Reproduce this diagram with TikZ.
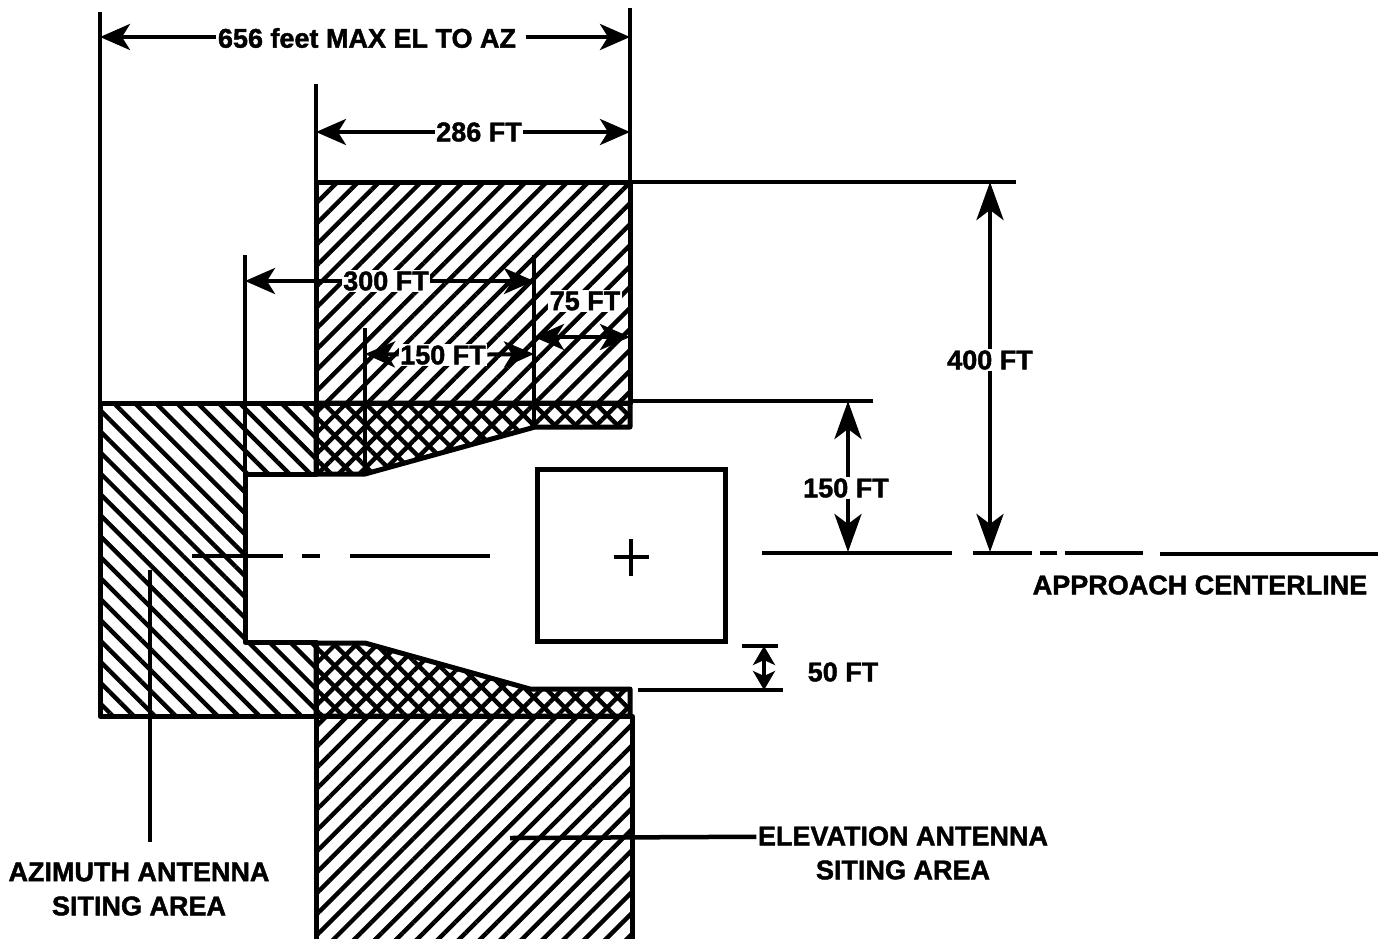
\documentclass[tikz,border=0pt]{standalone}
\usepackage{fontspec}
\setmainfont{Liberation Sans}[BoldFeatures={FakeBold=1.6}]
\usetikzlibrary{arrows.meta,patterns.meta}
\begin{document}
\begin{tikzpicture}[x=1pt,y=-1pt]
    % Define styles for areas and dimensions
    \tikzstyle{hatchup}=[pattern={Lines[angle=45,distance=14.8pt,line width=4.4pt]}]
    \tikzstyle{hatchdown}=[pattern={Lines[angle=-45,distance=14.8pt,line width=4.4pt]}]
    \tikzstyle{hatchcross}=[pattern={Hatch[angle=45,distance=14.8pt,line width=4.4pt]}]
    \tikzstyle{outline}=[draw, line width=5pt, line join=round]
    \tikzstyle{extline}=[line width=4.5pt]
    \tikzstyle{dimline}=[line width=4pt, {Stealth[length=30pt,width=26pt,inset=8pt]}-{Stealth[length=30pt,width=26pt,inset=8pt]}]
    \tikzstyle{dimleft}=[line width=4pt, {Stealth[length=30pt,width=26pt,inset=8pt]}-]
    \tikzstyle{dimright}=[line width=4pt, -{Stealth[length=30pt,width=26pt,inset=8pt]}]
    \tikzstyle{vertleft}=[line width=4.5pt, {Stealth[length=38pt,width=27pt,inset=10pt]}-]
    \tikzstyle{vertright}=[line width=4.5pt, -{Stealth[length=38pt,width=27pt,inset=10pt]}]
    \tikzstyle{label}=[font=\bfseries\fontsize{27}{32}\selectfont, fill=white, inner sep=1.5pt]
    \tikzstyle{plainlabel}=[font=\bfseries\fontsize{27}{32}\selectfont, inner sep=1.5pt]
    \useasboundingbox (0,0) rectangle (1382,938);

    % Hatched areas
    \path[outline, hatchup] (316,182) rectangle (630,403);
    \path[outline, hatchup] (316,716) -- (632,716) -- (632,945) -- (316,945) -- cycle;
    \path[outline, hatchdown] (100,403) -- (316,403) -- (316,474) -- (245,474) -- (245,642) -- (316,642) -- (316,716) -- (100,716) -- cycle;
    \path[outline, hatchcross] (316,403) -- (630,403) -- (630,427) -- (535,427) -- (365,474) -- (316,474) -- cycle;
    \path[outline, hatchcross] (316,643) -- (365,643) -- (530,689) -- (630,689) -- (630,716) -- (316,716) -- cycle;

    % Extension lines
    \coordinate (e1) at (100,12);
    \coordinate (e2) at (100,403);
    \coordinate (e3) at (630,8);
    \coordinate (e4) at (630,182);
    \coordinate (e5) at (316,84);
    \coordinate (e6) at (316,182);
    \coordinate (e7) at (245,255);
    \coordinate (e8) at (245,474);
    \coordinate (e9) at (365,328);
    \coordinate (e10) at (365,474);
    \coordinate (e11) at (534,255);
    \coordinate (e12) at (534,427);
    \coordinate (e13) at (1016,182);
    \coordinate (e14) at (630,401);
    \coordinate (e15) at (873,401);
    \draw[extline] (e1) -- (e2);
    \draw[extline] (e3) -- (e4);
    \draw[extline] (e5) -- (e6);
    \draw[extline] (e7) -- (e8);
    \draw[extline] (e9) -- (e10);
    \draw[extline] (e11) -- (e12);
    \draw[extline] (e4) -- (e13);
    \draw[extline] (e14) -- (e15);

    % Runway box
    \node[draw, line width=5pt, minimum width=188pt, minimum height=172pt, inner sep=0pt] (box) at (631,555.5) {};
    \coordinate (p1) at (614,557);
    \coordinate (p2) at (649,557);
    \coordinate (p3) at (631,539);
    \coordinate (p4) at (631,576);
    \draw[line width=3.5pt] (p1) -- (p2);
    \draw[line width=3.5pt] (p3) -- (p4);

    % Centerline
    \foreach \xa/\xb/\yc in {192/283/556, 302/320/556, 350/490/556, 762/952/553, 973/1032/553, 1040/1057/553, 1065/1143/553, 1160/1378/554} {
        \coordinate (ca) at (\xa,\yc);
        \coordinate (cb) at (\xb,\yc);
        \draw[extline] (ca) -- (cb);
    }
    \node[plainlabel] (approach) at (1200,585) {APPROACH CENTERLINE};

    % 656 feet
    \node[label] (d656) at (367,38) {656 feet MAX EL TO AZ};
    \coordinate (a1) at (100,37);
    \coordinate (a2) at (630,37);
    \draw[dimleft] (a1) -- (a1 -| d656.west);
    \draw[dimright] (a2 -| d656.east) ++(8,0) -- (a2);

    % 286 FT
    \node[label] (d286) at (479,132) {286 FT};
    \coordinate (b1) at (316,132);
    \coordinate (b2) at (630,132);
    \draw[dimleft] (b1) -- (d286);
    \draw[dimright] (d286) -- (b2);

    % 300 FT
    \node[label] (d300) at (386,281) {300 FT};
    \coordinate (c1) at (245,281);
    \coordinate (c2) at (534,281);
    \draw[dimleft] (c1) -- (d300);
    \draw[dimright] (d300) -- (c2);

    % 150 FT, horizontal
    \node[label] (d150h) at (443,355) {150 FT};
    \coordinate (f1) at (365,354);
    \coordinate (f2) at (534,354);
    \draw[dimleft] (f1) -- (d150h);
    \draw[dimright] (d150h) -- (f2);

    % 75 FT
    \node[label] (d75) at (585,301) {75 FT};
    \coordinate (g1) at (534,337);
    \coordinate (g2) at (630,337);
    \draw[dimline] (g1) -- (g2);

    % 400 FT
    \node[label] (d400) at (990,360) {400 FT};
    \coordinate (h1) at (990,182);
    \coordinate (h2) at (990,552);
    \draw[vertleft] (h1) -- (d400);
    \draw[vertright] (d400) -- (h2);

    % 150 FT, vertical
    \node[label] (d150v) at (846,488) {150 FT};
    \coordinate (i1) at (848,401);
    \coordinate (i2) at (848,552);
    \draw[vertleft] (i1) -- (i1 |- d150v.north);
    \draw[vertright] (i2 |- d150v.south) -- (i2);

    % 50 FT
    \node[plainlabel] (d50) at (843,672) {50 FT};
    \coordinate (j1) at (764,646);
    \coordinate (j2) at (764,690);
    \coordinate (j3) at (742,646);
    \coordinate (j4) at (778,646);
    \coordinate (j5) at (638,690);
    \coordinate (j6) at (783,690);
    \draw[line width=4pt, {Stealth[length=19pt,width=22pt,inset=5pt]}-{Stealth[length=19pt,width=22pt,inset=5pt]}] (j1) -- (j2);
    \draw[extline] (j3) -- (j4);
    \draw[extline] (j5) -- (j6);

    % Elevation antenna
    \node[plainlabel] (elev1) at (903,836) {ELEVATION ANTENNA};
    \node[plainlabel] (elev2) at (903,870) {SITING AREA};
    \coordinate (k1) at (510,838);
    \draw[extline] (k1) -- (elev1);

    % Azimuth antenna
    \node[plainlabel] (azim1) at (139,872) {AZIMUTH ANTENNA};
    \node[plainlabel] (azim2) at (139,906) {SITING AREA};
    \coordinate (m1) at (150,570);
    \coordinate (m2) at (150,842);
    \draw[extline] (m1) -- (m2);
\end{tikzpicture}
\end{document}
